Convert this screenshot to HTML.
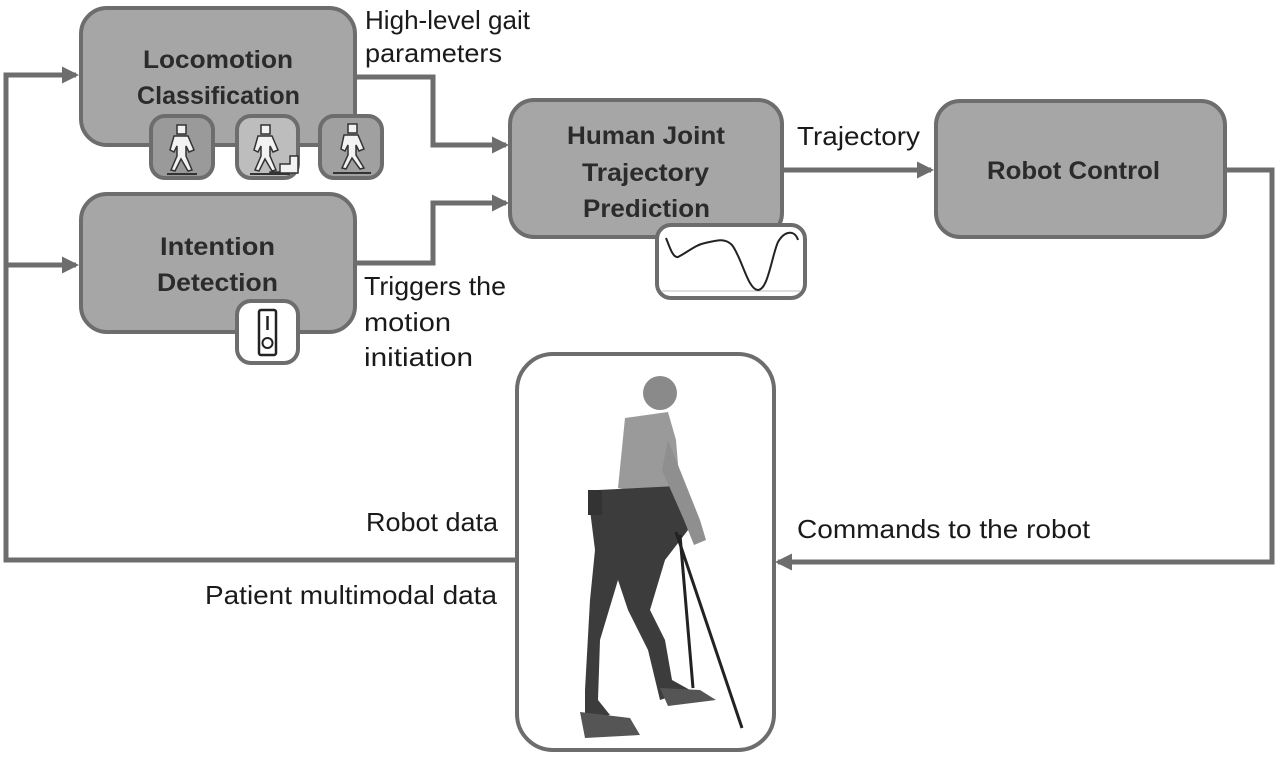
<!DOCTYPE html>
<html><head><meta charset="utf-8"><style>
html,body{margin:0;padding:0;background:#fff;}
svg{display:block;}
text{font-family:"Liberation Sans",sans-serif;fill:#1a1a1a;}
.b{font-weight:bold;font-size:25px;fill:#2b2b2b;}
.l{font-size:26px;}
</style></head><body>
<svg width="1280" height="757" viewBox="0 0 1280 757">
<defs>
<marker id="ar" markerWidth="3.4" markerHeight="3.4" refX="2.8" refY="1.7" orient="auto" markerUnits="strokeWidth">
<path d="M0,0 L3.4,1.7 L0,3.4 z" fill="#6d6d6d"/></marker>
</defs>
<g fill="none" stroke="#6d6d6d" stroke-width="5">
<path d="M517,560 H6 V75 H76" marker-end="url(#ar)"/>
<path d="M6,265 H76" marker-end="url(#ar)"/>
<path d="M355,77 H433 V145 H506" marker-end="url(#ar)"/>
<path d="M355,263 H433 V203 H506" marker-end="url(#ar)"/>
<path d="M782,170 H931" marker-end="url(#ar)"/>
<path d="M1225,170 H1272 V562 H778" marker-end="url(#ar)"/>
</g>
<g fill="#a6a6a6" stroke="#6d6d6d" stroke-width="4">
<rect x="81" y="8" width="274" height="137" rx="26"/>
<rect x="81" y="194" width="274" height="138" rx="26"/>
<rect x="510" y="100" width="272" height="137" rx="24"/>
<rect x="936" y="101" width="289" height="136" rx="24"/>
</g>
<g stroke="#6d6d6d" stroke-width="4">
<rect x="151" y="116" width="62" height="62" rx="14" fill="#9a9a9a"/>
<rect x="237" y="116" width="61" height="62" rx="14" fill="#bdbdbd"/>
<rect x="320" y="116" width="62" height="62" rx="14" fill="#a0a0a0"/>
<rect x="237" y="301" width="61" height="62" rx="14" fill="#fff"/>
<rect x="657" y="225" width="148" height="73" rx="14" fill="#fff"/>
<rect x="517" y="354" width="257" height="396" rx="36" fill="#fff"/>
</g>
<g fill="#f2f2f2" stroke="#333" stroke-width="1.5">
<rect x="177" y="125" width="9" height="9"/><path d="M174,136 h14 l6,14 -5,2 -3,-6 v10 l6,14 -4,1 -7,-12 -6,12 -4,-1 6,-14 v-10 l-3,6 -4,-2z"/>
<rect x="261" y="125" width="9" height="9"/><path d="M258,136 h14 l6,14 -5,2 -3,-6 v10 l6,14 -4,1 -7,-12 -6,12 -4,-1 6,-14 v-10 l-3,6 -4,-2z"/>
<path d="M270,172 h10 v-8 h10 v-8 h8 v17 h-28z"/>
<rect x="348" y="124" width="9" height="9"/><path d="M344,135 h14 l6,14 -5,2 -3,-6 v10 l8,13 -4,1 -8,-11 -6,11 -4,-1 6,-13 v-10 l-3,6 -4,-2z"/>
</g>
<g stroke="#333" stroke-width="2"><path d="M167,174 h30 M250,174 h40 M333,173 h38"/></g>
<rect x="259" y="310" width="17" height="45" rx="2" fill="#fff" stroke="#222" stroke-width="2.5"/>
<line x1="267.5" y1="316" x2="267.5" y2="330" stroke="#222" stroke-width="2.5"/>
<circle cx="267.5" cy="343" r="5" fill="none" stroke="#222" stroke-width="2"/>
<line x1="662" y1="291" x2="800" y2="291" stroke="#bbb" stroke-width="1"/>
<path d="M666,238 C670,248 673,258 678,257 C688,252 695,245 705,243 C718,240 725,238 732,245 C742,258 748,290 758,290 C768,290 772,255 778,242 C785,230 795,230 798,240" fill="none" stroke="#222" stroke-width="2"/>
<g>
<circle cx="660" cy="393" r="17" fill="#8a8a8a"/>
<path d="M625,418 L668,412 L676,440 L680,488 L655,495 L618,488 Z" fill="#9a9a9a"/>
<path d="M598,490 L678,486 L688,530 L665,560 L650,610 L665,640 L672,680 L690,690 L660,700 L648,650 L628,610 L618,580 L600,640 L598,700 L610,715 L585,720 L585,690 L590,600 L595,550 L590,510 Z" fill="#3c3c3c"/>
<path d="M668,440 L700,520 L706,540 L694,545 L684,520 L662,470 Z" fill="#8f8f8f"/>
<path d="M580,712 L630,718 L640,735 L585,738 Z" fill="#555"/>
<path d="M660,688 L700,690 L716,700 L668,706 Z" fill="#555"/>
<line x1="676" y1="532" x2="742" y2="728" stroke="#222" stroke-width="3"/>
<line x1="680" y1="535" x2="693" y2="688" stroke="#222" stroke-width="3"/>
<rect x="588" y="490" width="14" height="25" fill="#333"/>
</g>
<text class="b" x="143" y="68" textLength="150" lengthAdjust="spacingAndGlyphs">Locomotion</text>
<text class="b" x="137" y="104" textLength="163" lengthAdjust="spacingAndGlyphs">Classification</text>
<text class="b" x="160" y="255" textLength="115" lengthAdjust="spacingAndGlyphs">Intention</text>
<text class="b" x="157" y="291" textLength="121" lengthAdjust="spacingAndGlyphs">Detection</text>
<text class="b" x="567" y="144" textLength="158" lengthAdjust="spacingAndGlyphs">Human Joint</text>
<text class="b" x="582" y="181" textLength="127" lengthAdjust="spacingAndGlyphs">Trajectory</text>
<text class="b" x="583" y="217" textLength="127" lengthAdjust="spacingAndGlyphs">Prediction</text>
<text class="b" x="987" y="179" textLength="173" lengthAdjust="spacingAndGlyphs">Robot Control</text>
<text class="l" x="365" y="29" textLength="165" lengthAdjust="spacingAndGlyphs">High-level gait</text>
<text class="l" x="365" y="62" textLength="137" lengthAdjust="spacingAndGlyphs">parameters</text>
<text class="l" x="364" y="295" textLength="142" lengthAdjust="spacingAndGlyphs">Triggers the</text>
<text class="l" x="364" y="331" textLength="87" lengthAdjust="spacingAndGlyphs">motion</text>
<text class="l" x="364" y="366" textLength="109" lengthAdjust="spacingAndGlyphs">initiation</text>
<text class="l" x="797" y="145" textLength="123" lengthAdjust="spacingAndGlyphs">Trajectory</text>
<text class="l" x="797" y="538" textLength="293" lengthAdjust="spacingAndGlyphs">Commands to the robot</text>
<text class="l" x="366" y="531" textLength="132" lengthAdjust="spacingAndGlyphs">Robot data</text>
<text class="l" x="205" y="604" textLength="292" lengthAdjust="spacingAndGlyphs">Patient multimodal data</text>
</svg>
</body></html>
